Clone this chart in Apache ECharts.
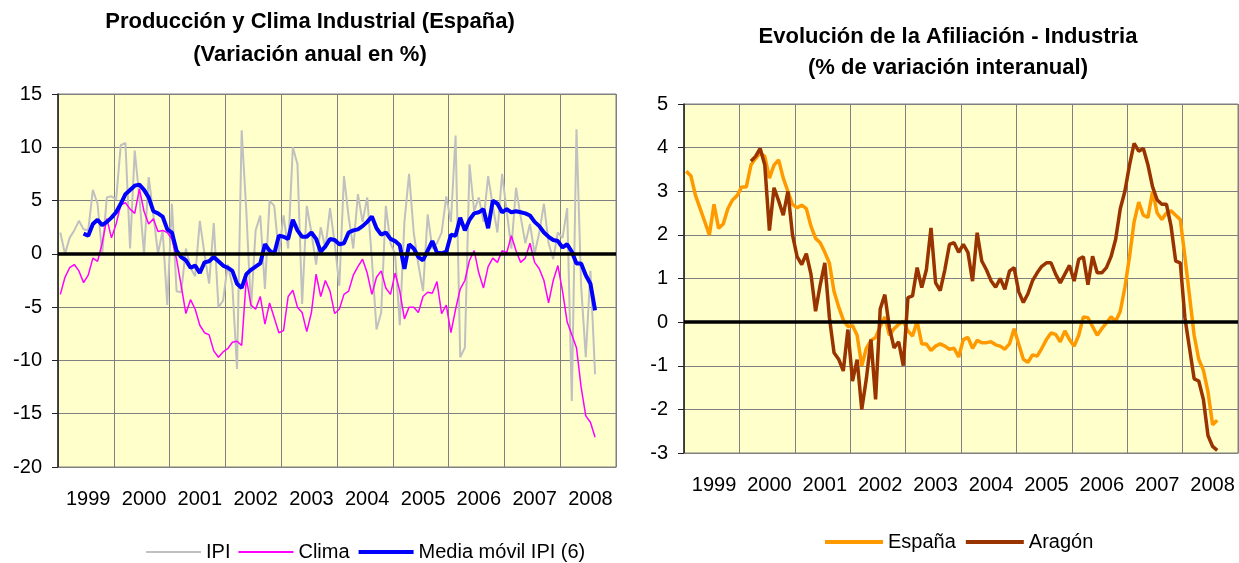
<!DOCTYPE html>
<html lang="es">
<head>
<meta charset="UTF-8">
<title>Producción, clima industrial y afiliación</title>
<script src="https://cdn.jsdelivr.net/npm/echarts@6/dist/echarts.min.js"></script>
</head>
<body style="margin:0;background:#fff">
<div id="main" style="width:1239px;height:563px;"></div>
<script>
// etiquetas de año (una cada 12 meses)
var years = ['1999', '2000', '2001', '2002', '2003', '2004', '2005', '2006', '2007', '2008'];

// grafico izquierdo: variacion anual en %
var ipi = [2.0, 0.0, 1.5, 2.2, 3.1, 2.3, 2.2, 6.0, 4.7, 0.0,
    5.3, 5.4, 5.1, 10.2, 10.4, 0.5, 9.7, 5.3, 0.0, 7.2,
    3.7, 0.0, 2.2, -4.8, 4.7, -3.5, -3.6, 0.5, -1.3, -2.1,
    3.1, 0.0, -2.8, 2.9, -5.0, -4.4, -1.0, -3.0, -10.8, 11.6,
    4.0, -5.2, 2.2, 3.6, -3.3, 5.0, 4.5, 0.0, 3.6, 0.5,
    10.0, 8.4, -4.7, 4.5, 2.0, -1.0, 2.5, 0.5, 4.3, 1.0,
    -3.0, 7.3, 3.5, 0.5, 5.6, 3.0, 5.3, -0.5, -7.1, -5.5,
    4.5, 1.0, 0.0, -6.7, 3.0, 7.5, 2.0, -1.0, -3.5, 3.7,
    0.5, 1.0, 2.0, 5.4, 3.0, 11.1, -9.7, -8.8, 8.4, 4.0,
    5.3, 3.0, 7.3, 4.5, 2.0, 7.5, 4.0, 0.5, 6.2, 3.5,
    1.0, 2.8, 0.0, 2.0, 4.7, 1.0, -0.5, 2.0, 1.5, 4.3,
    -13.8, 11.7, -3.0, -9.7, -1.6, -11.3];
var clima = [-3.8, -2.2, -1.3, -1.0, -1.6, -2.7, -2.0, -0.4, -0.7, 1.0,
    3.3, 1.5, 2.8, 4.6, 4.8, 4.2, 3.8, 6.1, 4.0, 2.8,
    3.3, 2.1, 2.2, 2.0, 1.4, -0.5, -3.0, -5.6, -4.3, -5.2,
    -6.7, -7.4, -7.6, -9.1, -9.7, -9.2, -8.9, -8.3, -8.2, -8.6,
    -2.3, -4.8, -5.2, -4.0, -6.6, -4.6, -6.0, -7.4, -7.2, -4.0,
    -3.4, -5.0, -5.5, -7.3, -5.5, -1.9, -4.0, -2.5, -3.5, -5.6,
    -5.2, -3.8, -3.5, -2.0, -1.2, -0.5, -1.8, -3.8, -2.2, -1.6,
    -3.2, -3.8, -1.8, -3.5, -6.1, -5.0, -5.0, -5.5, -4.0, -3.6,
    -3.7, -2.6, -5.6, -4.8, -7.4, -5.2, -3.3, -2.5, -0.6, 0.3,
    -1.8, -3.2, -1.2, -0.4, -0.8, 0.3, 0.1, 1.7, 0.3, -0.8,
    -0.4, 1.0, -0.8, -1.4, -2.5, -4.6, -2.5, -1.1, -3.5, -6.4,
    -7.6, -8.8, -12.5, -15.2, -15.8, -17.2];
var mediaIpi = [null, null, null, null, null, 1.9, 1.7, 2.8, 3.2, 2.7,
    3.0, 3.4, 3.9, 4.7, 5.6, 6.0, 6.4, 6.5, 6.0, 5.3,
    4.0, 3.8, 3.5, 2.3, 2.0, 0.3, -0.3, -0.6, -1.3, -1.1,
    -1.8, -0.8, -0.7, -0.3, -0.7, -1.1, -1.3, -1.6, -2.8, -3.2,
    -1.9, -1.5, -1.2, -0.9, 0.9, 0.3, 0.0, 1.7, 1.6, 1.4,
    3.2, 2.2, 1.6, 1.6, 2.0, 1.4, 0.2, 0.7, 1.4, 1.3,
    0.9, 1.0, 2.0, 2.2, 2.3, 2.6, 3.0, 3.5, 2.4, 1.8,
    2.0, 1.4, 1.2, 0.8, -1.4, 0.9, 0.5, -0.3, -0.6, 0.3,
    1.2, 0.1, 0.05, 0.2, 1.8, 1.7, 3.4, 2.2, 3.2, 3.8,
    3.9, 4.2, 2.4, 5.0, 4.7, 3.9, 4.2, 3.9, 4.0, 3.9,
    3.8, 3.6, 3.0, 2.6, 2.0, 1.6, 1.3, 1.2, 0.6, 0.9,
    0.2, -0.9, -0.9, -2.0, -2.8, -5.3];

// grafico derecho: % de variacion interanual de la afiliacion
var espana = [3.46, 3.35, 2.9, 2.6, 2.3, 2.0, 2.7, 2.15, 2.25, 2.6,
    2.8, 2.9, 3.1, 3.1, 3.6, 3.75, 3.88, 3.8, 3.3, 3.6,
    3.72, 3.3, 3.0, 2.7, 2.62, 2.68, 2.6, 2.2, 1.92, 1.82,
    1.6, 1.35, 0.7, 0.35, 0.05, -0.1, -0.08, -0.3, -1.0, -0.6,
    -0.42, -0.35, -0.1, 0.12, -0.3, -0.15, -0.05, 0.02, -0.2, -0.32,
    0.02, -0.5, -0.5, -0.65, -0.55, -0.5, -0.55, -0.62, -0.6, -0.8,
    -0.4, -0.35, -0.6, -0.42, -0.47, -0.47, -0.45, -0.52, -0.55, -0.62,
    -0.5, -0.15, -0.5, -0.85, -0.92, -0.75, -0.78, -0.6, -0.4, -0.25,
    -0.28, -0.45, -0.2, -0.4, -0.55, -0.3, 0.12, 0.1, -0.1, -0.3,
    -0.15, -0.02, 0.12, 0.02, 0.25, 0.8, 1.5, 2.3, 2.75, 2.45,
    2.4, 3.0, 2.5, 2.35, 2.5, 2.55, 2.45, 2.35, 1.5, 0.6,
    -0.3, -0.85, -1.1, -1.6, -2.35, -2.25];
var aragon = [null, null, null, null, null, null, null, null, null, null,
    null, null, null, null, 3.69, 3.8, 3.98, 3.6, 2.1, 3.08,
    2.78, 2.45, 3.0, 2.0, 1.5, 1.32, 1.57, 1.1, 0.25, 0.85,
    1.36, 0.1, -0.7, -0.85, -1.12, -0.17, -1.35, -0.86, -2.0, -1.3,
    -0.4, -1.77, 0.3, 0.63, -0.13, -0.59, -0.45, -1.0, 0.56, 0.6,
    1.25, 0.79, 1.2, 2.16, 0.9, 0.72, 1.2, 1.78, 1.82, 1.6,
    1.78, 1.6, 0.94, 2.05, 1.4, 1.2, 0.95, 0.8, 1.0, 0.75,
    1.17, 1.25, 0.7, 0.45, 0.65, 0.95, 1.13, 1.28, 1.36, 1.36,
    1.1, 0.9, 1.1, 1.3, 0.94, 1.44, 1.5, 0.86, 1.51, 1.13,
    1.13, 1.25, 1.5, 1.9, 2.6, 3.0, 3.6, 4.1, 3.92, 3.98,
    3.6, 3.1, 2.8, 2.7, 2.7, 2.2, 1.4, 1.36, 0.1, -0.6,
    -1.3, -1.35, -1.77, -2.6, -2.85, -2.94];

// 120 meses (10 años)
var meses = [];
for (var i = 0; i < years.length * 12; i++) {
    meses.push(years[Math.floor(i / 12)] + '-' + (i % 12 + 1));
}

var fuente = 'Liberation Sans, Arial, sans-serif';

function ejeX(gridIndex) {
    return {
        type: 'category',
        gridIndex: gridIndex,
        data: meses,
        boundaryGap: true,
        axisLine: { onZero: false, lineStyle: { color: '#808080', width: 1 } },
        axisTick: { show: false },
        splitLine: { show: true, interval: 11, lineStyle: { color: '#808080', width: 1 } },
        axisLabel: {
            interval: function (idx) { return idx % 12 === 6; },
            formatter: function (v, idx) { return years[Math.floor(idx / 12)]; },
            color: '#000', fontFamily: fuente, fontSize: 20, margin: 22
        }
    };
}

function ejeY(gridIndex, min, max, step) {
    return {
        type: 'value',
        gridIndex: gridIndex,
        min: min, max: max, interval: step,
        axisLine: { show: true, lineStyle: { color: '#222', width: 1.5 } },
        axisTick: { show: true, length: 6, lineStyle: { color: '#222' } },
        splitLine: { show: true, lineStyle: { color: '#808080', width: 1 } },
        axisLabel: { color: '#000', fontFamily: fuente, fontSize: 20, margin: 16 }
    };
}

var lineaCero = {
    silent: true, symbol: 'none', label: { show: false },
    lineStyle: { color: '#000', width: 3.5, type: 'solid' },
    data: [{ yAxis: 0 }]
};

var titulo = 'bold 22px ' + fuente;

var myChart = echarts.init(document.getElementById('main'));
var option = {
    animation: false,
    backgroundColor: '#fff',
    graphic: [
        { type: 'text', x: 310, y: 22, style: { text: 'Producción y Clima Industrial (España)', align: 'center', verticalAlign: 'middle', font: titulo, fill: '#000' } },
        { type: 'text', x: 310, y: 55, style: { text: '(Variación anual en %)', align: 'center', verticalAlign: 'middle', font: titulo, fill: '#000' } },
        { type: 'text', x: 948, y: 37, style: { text: 'Evolución de la Afiliación - Industria', align: 'center', verticalAlign: 'middle', font: titulo, fill: '#000' } },
        { type: 'text', x: 948, y: 68, style: { text: '(% de variación interanual)', align: 'center', verticalAlign: 'middle', font: titulo, fill: '#000' } }
    ],
    legend: [
        {
            data: [
                { name: 'IPI', lineStyle: { width: 2 } },
                { name: 'Clima', lineStyle: { width: 2 } },
                { name: 'Media móvil IPI (6)', lineStyle: { width: 4 } }
            ],
            left: 140, top: 537, itemWidth: 55, itemHeight: 10, itemGap: 7,
            itemStyle: { opacity: 0 },
            textStyle: { fontFamily: fuente, fontSize: 20, color: '#000' }
        },
        {
            data: [
                { name: 'España', lineStyle: { width: 4 } },
                { name: 'Aragón', lineStyle: { width: 4 } }
            ],
            left: 818, top: 527, itemWidth: 58, itemHeight: 10, itemGap: 8,
            itemStyle: { opacity: 0 },
            textStyle: { fontFamily: fuente, fontSize: 20, color: '#000' }
        }
    ],
    grid: [
        { left: 58, top: 94, width: 558, height: 373, show: true, backgroundColor: '#FFFFCC', borderColor: '#808080', borderWidth: 1 },
        { left: 684, top: 104, width: 554, height: 349, show: true, backgroundColor: '#FFFFCC', borderColor: '#808080', borderWidth: 1 }
    ],
    xAxis: [ejeX(0), ejeX(1)],
    yAxis: [ejeY(0, -20, 15, 5), ejeY(1, -3, 5, 1)],
    series: [
        {
            name: 'IPI', type: 'line', xAxisIndex: 0, yAxisIndex: 0, data: ipi,
            symbol: 'none', showSymbol: false, color: '#C0C0C0',
            lineStyle: { color: '#C0C0C0', width: 2 }, markLine: lineaCero
        },
        {
            name: 'Clima', type: 'line', xAxisIndex: 0, yAxisIndex: 0, data: clima,
            symbol: 'none', showSymbol: false, color: '#FF00FF',
            lineStyle: { color: '#FF00FF', width: 1.5 }
        },
        {
            name: 'Media móvil IPI (6)', type: 'line', xAxisIndex: 0, yAxisIndex: 0, data: mediaIpi,
            symbol: 'none', showSymbol: false, color: '#0000FF',
            lineStyle: { color: '#0000FF', width: 4 }
        },
        {
            name: 'España', type: 'line', xAxisIndex: 1, yAxisIndex: 1, data: espana,
            symbol: 'none', showSymbol: false, color: '#FF9900',
            lineStyle: { color: '#FF9900', width: 3.5 }, markLine: lineaCero
        },
        {
            name: 'Aragón', type: 'line', xAxisIndex: 1, yAxisIndex: 1, data: aragon,
            symbol: 'none', showSymbol: false, color: '#993300',
            lineStyle: { color: '#993300', width: 3.5 }
        }
    ]
};
myChart.setOption(option);
</script>
</body>
</html>
